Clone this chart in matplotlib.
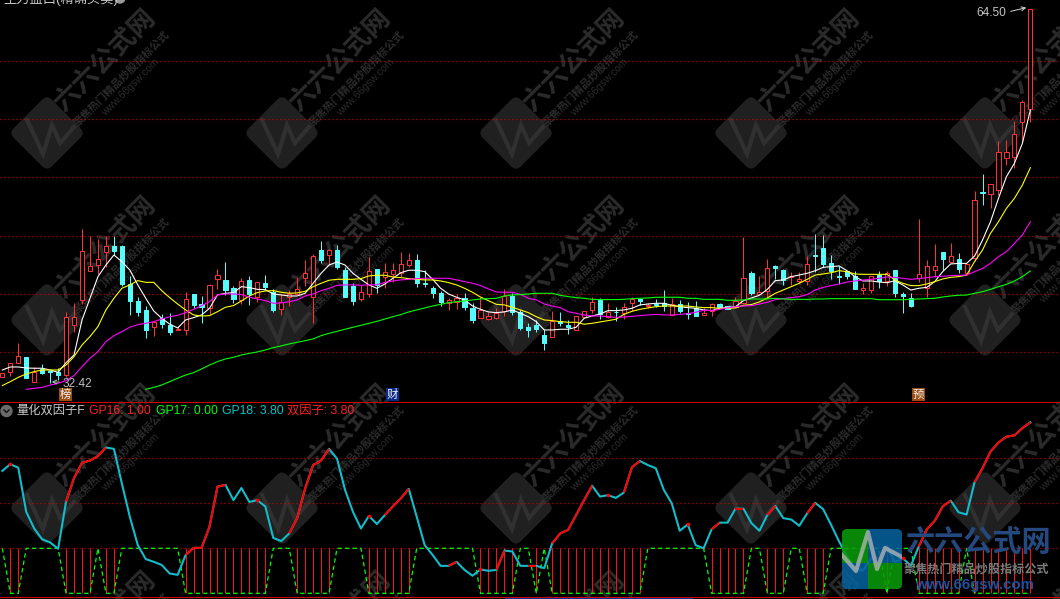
import matplotlib
matplotlib.use("Agg")
import matplotlib.pyplot as plt
from matplotlib.patches import FancyBboxPatch, Rectangle
from matplotlib.transforms import Affine2D

plt.rcParams['font.family'] = ['Liberation Sans', 'Noto Sans CJK SC', 'DejaVu Sans']

opens = [32.82,33.31,34.05,34.54,32.45,33.57,33.37,33.28,33.05,37.35,39.44,41.99,42.50,43.62,44.11,44.11,40.84,39.38,38.61,37.12,37.89,37.29,36.86,36.92,39.98,39.09,38.75,41.30,41.19,40.47,39.47,41.19,39.70,40.93,
         40.18,38.66,39.70,39.95,41.39,39.70,43.76,43.30,43.76,42.04,40.70,39.58,39.95,42.10,41.47,41.70,41.76,42.50,42.90,40.93,40.50,40.07,39.18,39.32,39.61,38.78,37.95,37.86,37.95,38.55,39.84,38.46,37.12,37.29,
         36.46,36.32,37.69,37.29,36.92,38.03,38.64,39.47,38.03,38.46,38.38,39.18,39.52,38.95,39.12,39.18,38.18,39.12,38.32,38.75,38.21,38.49,39.09,38.95,38.84,39.24,41.76,39.98,40.27,42.39,42.02,41.47,41.10,41.10,
         43.33,43.93,42.61,41.53,41.96,41.53,40.35,40.35,41.61,41.10,42.04,39.95,39.61,41.33,40.47,42.01,43.56,42.76,42.96,41.76,43.04,48.74,48.60,48.92,51.64,51.72,54.73,55.90]
closes = [33.17,34.08,34.65,32.79,33.31,33.22,33.31,33.05,37.98,37.98,43.65,42.36,42.96,44.08,43.68,40.84,39.41,38.44,36.89,37.58,37.43,36.75,36.95,39.52,39.01,38.84,40.73,41.59,40.33,39.58,41.07,39.98,40.98,40.55,
          38.61,39.32,39.98,40.44,41.76,43.22,42.90,43.76,42.33,39.75,39.38,40.13,41.93,40.76,41.84,42.02,42.53,42.87,40.96,40.81,40.10,39.30,39.44,39.64,38.87,37.75,38.61,38.09,38.35,39.78,38.46,37.06,36.92,36.95,
          35.80,37.69,37.46,37.18,38.06,38.55,39.27,38.23,38.41,38.41,38.89,39.55,39.38,39.01,39.04,38.95,39.12,38.52,38.26,38.09,38.32,39.09,38.87,38.72,39.35,41.33,40.10,40.18,42.19,42.24,41.19,41.56,41.24,42.53,
          43.25,42.56,41.98,41.47,41.56,40.44,40.47,41.50,41.10,41.76,40.04,39.84,38.98,41.73,42.36,42.36,42.99,43.22,42.16,42.53,48.03,48.66,49.40,52.15,52.21,53.70,56.45,64.50]
highs = [33.17,34.08,35.74,34.54,33.74,33.94,33.37,33.60,38.41,39.18,45.54,44.97,44.71,44.97,44.97,44.19,41.53,39.70,38.95,37.58,38.26,38.32,37.23,40.15,39.98,39.81,40.84,42.10,42.70,40.67,41.39,41.56,40.98,41.61,
         40.41,39.98,40.33,41.47,42.90,43.42,44.54,43.88,44.19,42.33,40.90,40.76,43.19,42.10,42.67,42.67,43.59,43.53,43.42,42.04,40.67,40.24,39.64,39.98,40.10,39.18,39.75,38.41,38.75,40.38,40.10,38.61,37.49,37.75,
         36.95,38.49,38.44,37.75,38.06,38.55,39.70,39.61,39.18,38.84,39.18,39.70,39.55,39.18,39.55,40.33,39.67,39.47,39.27,39.38,38.75,39.18,39.18,38.95,39.70,44.85,41.96,41.53,42.99,42.47,42.10,41.90,41.84,43.25,
         45.13,45.05,43.33,42.39,41.96,41.98,40.95,41.50,41.96,41.98,42.04,40.12,40.04,46.42,42.90,44.28,43.56,44.36,43.47,42.53,48.83,50.29,49.40,53.13,53.21,54.84,56.65,64.50]
lows = [32.82,32.94,34.03,32.79,32.45,33.11,32.31,32.59,32.82,36.75,39.09,41.99,41.70,42.33,43.33,40.70,38.15,38.09,36.23,36.40,37.03,36.46,36.86,36.46,38.75,37.52,38.26,40.41,39.90,39.18,39.12,39.04,39.32,40.33,
        38.46,38.18,38.95,39.90,40.67,37.52,42.67,42.47,42.13,39.75,39.04,39.38,39.75,40.10,40.47,41.04,41.47,42.27,40.61,40.61,39.64,38.95,38.61,38.66,38.61,37.49,37.89,37.75,37.81,38.09,38.18,36.89,36.32,36.75,
        35.17,36.32,37.23,36.55,36.92,37.89,38.38,37.86,37.89,37.69,37.86,38.55,39.01,38.75,38.84,38.52,38.18,38.38,37.81,38.09,38.21,38.12,38.81,38.66,38.84,39.18,39.90,39.90,39.61,41.27,40.78,40.76,40.96,40.76,
        41.90,42.33,41.30,40.84,41.30,40.44,39.98,40.09,40.52,40.67,39.69,38.38,38.89,41.04,39.75,41.47,42.04,42.61,41.81,41.61,42.84,47.66,47.40,48.49,51.06,50.83,53.07,54.79]

ma_white = [33.45,33.71,33.71,33.62,33.60,33.60,33.45,33.25,34.08,34.74,37.75,39.61,41.47,42.47,43.33,42.76,42.04,40.76,39.61,38.52,37.89,37.40,37.06,37.75,37.95,38.18,38.75,39.90,40.04,40.10,40.61,40.53,40.38,40.35,
            39.98,39.90,39.81,39.81,40.04,40.90,41.76,42.47,42.73,42.47,41.76,41.24,40.76,40.47,40.84,41.33,41.81,42.02,42.02,41.90,41.24,40.47,39.98,39.70,39.47,38.95,38.66,38.44,38.38,38.44,38.61,38.32,38.03,37.61,
            36.89,36.89,36.95,36.95,37.12,37.89,38.09,38.26,38.55,38.55,38.61,38.75,39.04,39.12,39.18,39.18,39.01,38.89,38.81,38.75,38.61,38.55,38.75,38.81,38.89,39.41,39.64,39.87,40.38,41.13,41.19,41.47,41.61,41.76,
            41.98,42.27,42.33,42.39,41.98,41.47,41.10,41.10,41.01,40.95,41.12,40.75,40.32,40.47,40.55,41.04,41.90,42.56,42.61,42.61,43.24,44.62,46.19,48.20,50.06,51.21,52.92,55.79]
ma_yellow = [32.11,32.45,32.82,33.11,33.31,33.45,33.45,33.45,33.88,34.60,35.60,36.32,37.18,38.61,39.61,40.47,40.76,41.13,40.98,40.98,40.27,39.67,39.12,38.61,38.18,38.09,38.12,38.46,38.84,38.98,39.38,39.81,40.10,40.24,
             40.27,40.13,40.04,40.07,40.21,40.61,40.90,41.16,41.24,41.24,41.24,41.30,41.53,41.59,41.59,41.44,41.39,41.30,41.24,41.19,41.19,41.10,40.96,40.76,40.47,40.13,39.72,39.41,39.09,39.04,38.84,38.61,38.38,38.03,
             37.75,37.69,37.61,37.55,37.55,37.38,37.46,37.58,37.69,37.81,38.23,38.49,38.66,38.78,38.89,38.95,38.95,38.95,38.95,38.87,38.81,38.81,38.75,38.75,38.78,39.01,39.07,39.30,39.64,40.04,40.33,40.61,40.90,41.24,
             41.61,41.70,41.81,41.98,41.90,41.70,41.67,41.67,41.67,41.67,41.18,40.90,40.70,40.70,40.84,41.04,41.27,41.41,41.47,41.61,42.76,43.76,45.19,46.19,47.34,48.20,49.34,50.83]
ma_magenta = [31.79,31.88,31.96,32.16,32.31,32.54,32.97,33.74,34.46,35.03,35.89,36.40,36.75,37.12,37.35,37.46,37.61,37.83,38.03,38.15,38.38,38.66,38.98,39.32,39.90,39.98,39.98,39.93,39.70,39.55,39.41,
              39.18,39.21,39.32,39.47,39.81,39.98,40.27,40.47,40.73,40.76,40.76,40.73,40.76,40.78,40.98,41.10,41.19,41.24,41.30,41.33,41.33,41.33,41.33,41.19,41.04,40.90,40.70,40.41,40.15,40.13,40.13,39.95,39.61,39.47,
              39.12,38.95,38.81,38.46,38.32,38.18,38.09,38.09,38.03,37.98,38.00,38.06,38.12,38.18,38.23,38.18,38.18,38.23,38.29,38.41,38.58,38.55,38.66,38.78,38.89,38.95,38.98,39.12,39.27,39.50,39.58,39.67,39.75,39.93,
              40.32,40.55,40.70,40.84,41.01,41.10,41.18,41.24,41.33,41.44,41.41,41.33,41.24,41.30,41.38,41.47,41.50,41.56,41.58,41.61,41.90,42.18,42.61,43.19,43.62,44.33,45.05,46.19]
ma_green = [31.79,31.96,32.16,32.45,32.74,33.02,33.22,33.54,33.88,34.17,34.40,34.54,34.74,34.88,35.00,35.17,
            35.37,35.52,35.69,35.83,35.97,36.12,36.40,36.60,36.77,36.95,37.12,37.29,37.46,37.63,37.83,38.03,38.21,38.44,38.61,38.78,38.95,39.09,39.24,39.32,39.38,39.47,39.55,39.58,39.61,39.81,39.90,39.93,39.98,40.04,
            40.04,40.04,39.87,39.75,39.67,39.61,39.52,39.50,39.50,39.50,39.52,39.58,39.61,39.64,39.70,39.70,39.70,39.70,39.61,39.61,39.52,39.52,39.52,39.44,39.44,39.47,39.55,39.55,39.55,39.61,39.55,39.52,39.52,39.52,
            39.55,39.55,39.58,39.58,39.58,39.58,39.58,39.58,39.49,39.49,39.49,39.49,39.52,39.55,39.58,39.61,39.72,39.81,39.87,39.89,40.04,40.18,40.38,40.61,40.81,41.10,41.47,41.96]
magenta_start = 3
green_start = 18

factor = [2.72,2.87,2.79,1.81,1.44,1.20,1.13,0.99,2.04,2.56,2.90,2.95,3.05,3.24,3.21,2.44,1.70,1.07,0.76,0.70,0.63,0.44,0.41,0.85,1.01,1.01,1.48,2.37,2.41,2.07,2.34,2.03,2.07,1.93,1.23,1.16,1.33,1.67,2.33,2.85,2.95,3.21,2.99,2.30,
          1.81,1.44,1.72,1.54,1.74,1.93,2.11,2.32,1.70,1.07,0.85,0.61,0.61,0.70,0.52,0.39,0.53,0.50,0.52,0.95,0.93,0.61,0.61,0.61,0.56,1.11,1.33,1.41,1.74,2.07,2.39,2.15,2.18,2.12,2.24,2.80,2.94,2.85,2.78,2.30,2.00,1.39,1.53,1.07,
          1.00,1.42,1.57,1.57,1.88,1.88,1.56,1.39,1.74,1.94,1.67,1.64,1.50,1.78,2.01,1.87,1.52,1.15,0.82,0.56,0.50,0.78,0.79,1.06,0.70,0.78,0.61,1.04,1.42,1.61,1.93,2.06,1.80,1.75,2.47,2.78,3.15,3.35,3.48,3.51,3.67,3.80]
factor_red_spans = [(8,13),(23,28),(36,41),(48,51),(56,57),(62,63),(66,67),(69,74),(78,80),(89,90),(92,93),(96,97),(101,102),(109,111),(115,119),(122,129)]
factor_red_tips = [1,32,46,60,76,86,113]
signal_zero_spans = [(1,2),(8,11),(13,14),(23,33),(37,41),(46,51),(60,64),(67,67),(69,80),(89,93),(96,98),(101,103),(111,111),(115,120),(122,129)]

price_grid = [35,40,45,50,55,60]
factor_grid = [1,2,3]

BLACK = '#000000'
RED = '#ff3232'
CYAN = '#54fcfc'
W, H = 1060, 599
DOT = (0, (0.8, 2.4))
PX = 0.72

fig = plt.figure(figsize=(W / 100, H / 100), dpi=100, facecolor=BLACK)

# background layer in pixel units: watermark tiles
bg = fig.add_axes([0, 0, 1, 1], zorder=0)
bg.set_xlim(0, W); bg.set_ylim(H, 0); bg.axis('off')
WM = '#2b2b2b'
for cy in [133, 320, 508, 695]:
    for cx in [47, 282, 516, 751, 985]:
        bg.add_patch(FancyBboxPatch((cx - 27, cy - 27), 54, 54, boxstyle='round,pad=0,rounding_size=7',
                                    fc='#202020', ec='none',
                                    transform=Affine2D().rotate_deg_around(cx, cy, 45) + bg.transData))
        bg.plot([cx - 20, cx - 4, cx + 5, cx + 13, cx + 27], [cy - 13, cy + 21, cy - 8, cy + 10, cy - 6],
                color='#303030', lw=3, solid_joinstyle='miter')
        bg.text(cx + 58, cy - 73, '六六公式网', color=WM, fontsize=19, fontweight='bold', rotation=45,
                ha='center', va='center', rotation_mode='anchor')
        bg.text(cx + 75, cy - 54, '聚焦热门精品炒股指标公式', color=WM, fontsize=7.8, fontweight='bold', rotation=45,
                ha='center', va='center', rotation_mode='anchor')
        bg.text(cx + 84, cy - 46, 'www.66gsw.com', color=WM, fontsize=7.5, rotation=45,
                ha='center', va='center', rotation_mode='anchor')

# price panel
ax = fig.add_axes([0, 1 - 402 / H, 1, 402 / H], zorder=1)
ax.patch.set_alpha(0)
ax.set_xlim(-0.292, 132.72)
ax.set_ylim(30.70, 65.24)
ax.axis('off')
for g in price_grid:
    ax.axhline(g, color='#e80000', lw=0.9, ls=DOT, zorder=1, snap=True)

n = len(closes)
xs = list(range(n))
for i in xs:
    up = closes[i] >= opens[i]
    col = RED if up else CYAN
    ax.vlines(i, lows[i], highs[i], color=col, lw=PX, zorder=2, snap=True)
    lo, hi = min(opens[i], closes[i]), max(opens[i], closes[i])
    ax.bar(i, hi - lo, bottom=lo, width=0.52, facecolor=BLACK if up else CYAN, edgecolor=col,
           lw=PX, zorder=3, snap=True)

line_kw = dict(lw=0.8, zorder=4, solid_joinstyle='miter')
ax.plot(xs, ma_white, color='#ffffff', **line_kw)
ax.plot(xs, ma_yellow, color='#ffff00', **line_kw)
ax.plot(range(magenta_start, magenta_start + len(ma_magenta)), ma_magenta, color='#ff00ff', **line_kw)
ax.plot(range(green_start, green_start + len(ma_green)), ma_green, color='#00ff00', **line_kw)

# pixel-space annotations
top = fig.add_axes([0, 0, 1, 1], zorder=3)
top.set_xlim(0, W); top.set_ylim(H, 0); top.axis('off'); top.patch.set_alpha(0)
top.text(3, -1, '主力盘口(精确买卖)', color='#c8c8c8', fontsize=9.5, va='center', ha='left')
top.add_patch(plt.Circle((120, -2), 5, color='#9a9a9a'))
top.text(976, 13, '64.50', color='#c4c4c4', fontsize=8.6, va='center', ha='left')
top.annotate('', xy=(1029, 7), xytext=(1008, 12), arrowprops=dict(arrowstyle='->', color='#d0d0d0', lw=0.7, mutation_scale=7))
top.text(63, 384, '32.42', color='#bdbdbd', fontsize=8.6, va='center', ha='left')
top.annotate('', xy=(49, 382), xytext=(62, 382), arrowprops=dict(arrowstyle='->', color='#bdbdbd', lw=0.7, mutation_scale=7))
for lx, ltxt, lbg in [(65.5, '榜', '#9a4d12'), (392, '财', '#0b2a8a'), (918.5, '预', '#9a4d12')]:
    top.add_patch(Rectangle((lx - 6.5, 388), 13, 13, fc=lbg, ec='none'))
    top.text(lx, 394.5, ltxt, color='#f0f0f0', fontsize=8.2, ha='center', va='center')

# separators
top.add_patch(Rectangle((0, 402), W, 1, fc='#d00000', ec='none'))
top.add_patch(Rectangle((0, 597), W, 1, fc='#d00000', ec='none'))
top.add_patch(Rectangle((505, 598), 188, 1, fc='#0a2a9a', ec='none'))

# indicator header
top.add_patch(plt.Circle((6.5, 411), 5.5, color='#6a6a6a'))
top.plot([4, 6.5, 9], [410, 412.5, 410], color='#111111', lw=1)
hdr = [(16, '量化双因子F', '#c8c8c8'), (89, 'GP16: 1.00', '#ff2020'), (156, 'GP17: 0.00', '#00ff00'),
       (222, 'GP18: 3.80', '#00c8c8'), (287, '双因子: 3.80', '#ff2020')]
for hx, htxt, hcol in hdr:
    top.text(hx, 411, htxt, color=hcol, fontsize=8.8, va='center', ha='left')

# indicator panel
sub = fig.add_axes([0, 1 - 597 / H, 1, (597 - 402) / H], zorder=2)
sub.patch.set_alpha(0)
sub.set_xlim(-0.292, 132.72)
sub.set_ylim(-0.082, 4.251)
sub.axis('off')
for g in factor_grid:
    sub.axhline(g, color='#e80000', lw=0.9, ls=DOT, zorder=1, snap=True)

signal = [1.0] * n
for a, b in signal_zero_spans:
    for i in range(a, b + 1):
        signal[i] = 0.0
stick_x = [i for i in xs if signal[i] == 0.0]
sub.vlines(stick_x, 0, 1, color='#ff1010', lw=PX, zorder=2, snap=True)
sub.plot(xs, signal, color='#00ff00', lw=0.9, ls=(0, (3.5, 2.5)), zorder=3)
sub.plot(xs, factor, color='#12bccb', lw=1.5, zorder=4, solid_joinstyle='round')
for a, b in factor_red_spans:
    sub.plot(range(a, b + 1), factor[a:b + 1], color='#ff0000', lw=1.5, zorder=5, solid_capstyle='butt')
sub.scatter(factor_red_tips, [factor[i] for i in factor_red_tips], s=7, color='#ff0000', zorder=5, linewidths=0)

# logo overlay
lg = fig.add_axes([0, 0, 1, 1], zorder=6)
lg.set_xlim(0, W); lg.set_ylim(H, 0); lg.axis('off'); lg.patch.set_alpha(0)
clip = FancyBboxPatch((842, 529), 60, 60, boxstyle='round,pad=0,rounding_size=5', fc='none', ec='none')
lg.add_patch(clip)
for rx, ry, rw, rh, rc in [(842, 529, 26, 34, '#0a9a0a'), (868, 529, 34, 34, '#05619c'),
                           (842, 563, 26, 26, '#05619c'), (868, 563, 34, 26, '#0a9a0a')]:
    r = Rectangle((rx, ry), rw, rh, fc=rc, ec='none', alpha=0.88)
    lg.add_patch(r)
    r.set_clip_path(clip)
hb, = lg.plot([842, 856, 868, 877, 885, 902], [555, 571, 532, 569, 548, 557], color='#b8b8b8', lw=3, alpha=0.75)
hb.set_clip_path(clip)
lg.text(977.5, 543, '六六公式网', color='#23497f', fontsize=21, fontweight='bold', ha='center', va='center')
lg.text(976.5, 569.5, '聚焦热门精品炒股指标公式', color='#7c7c7c', fontsize=8.7, fontweight='bold', ha='center', va='center')
lg.text(974.5, 585, 'www.66gsw.com', color='#24509a', fontsize=10.8, fontweight='bold', ha='center', va='center')

fig.savefig('out.png', dpi=100, facecolor=BLACK)
